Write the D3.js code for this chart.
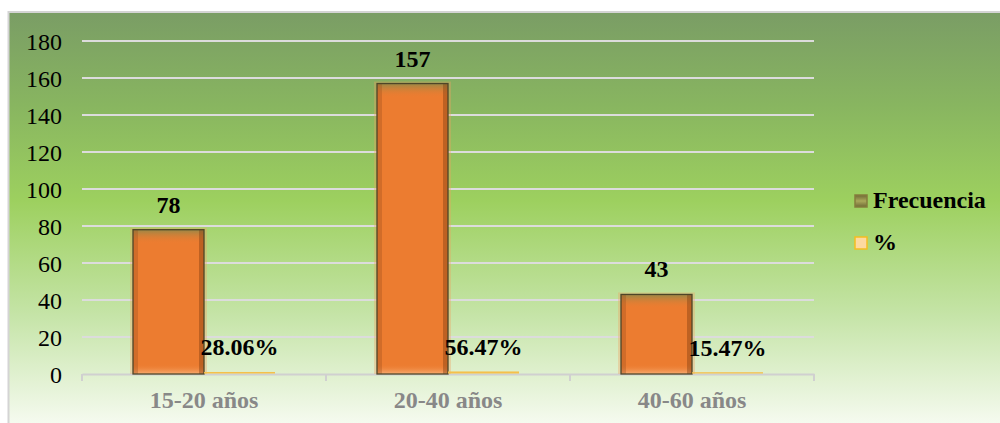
<!DOCTYPE html>
<html><head><meta charset="utf-8">
<script src="https://cdn.jsdelivr.net/npm/d3@7"></script>
<style>body{margin:0;background:#fff;overflow:hidden}svg{display:block}
svg text{font-family:"Liberation Serif","Tinos","Times New Roman",serif !important;}</style>
</head><body>
<script>
const categories = ["15-20 años", "20-40 años", "40-60 años"];
const frecuencia = [78, 157, 43];
const porcentaje = [0.2806, 0.5647, 0.1547];
const porcentajeLabels = ["28.06%", "56.47%", "15.47%"];
const seriesNames = ["Frecuencia", "%"];
const yTicks = [0, 20, 40, 60, 80, 100, 120, 140, 160, 180];

const W = 1000, H = 423;
const svg = d3.select("body").append("svg").attr("width", W).attr("height", H);
const defs = svg.append("defs");

const bg = defs.append("linearGradient").attr("id", "bg").attr("x1", 0).attr("y1", 0).attr("x2", 0).attr("y2", 1);
[[0, "#7a9d65"], [0.22, "#88b560"], [0.45, "#9dd05f"], [0.72, "#c5e4a7"], [1, "#f9fcf5"]]
  .forEach(([o, c]) => bg.append("stop").attr("offset", o).attr("stop-color", c));

const topBevel = defs.append("linearGradient").attr("id", "topBevel").attr("x1", 0).attr("y1", 0).attr("x2", 0).attr("y2", 1);
topBevel.append("stop").attr("offset", 0).attr("stop-color", "#8a8a4a").attr("stop-opacity", 0.85);
topBevel.append("stop").attr("offset", 1).attr("stop-color", "#ed7d31").attr("stop-opacity", 0);

const botBevel = defs.append("linearGradient").attr("id", "botBevel").attr("x1", 0).attr("y1", 1).attr("x2", 0).attr("y2", 0);
botBevel.append("stop").attr("offset", 0).attr("stop-color", "#f8b27a").attr("stop-opacity", 0.9);
botBevel.append("stop").attr("offset", 1).attr("stop-color", "#ed7d31").attr("stop-opacity", 0);

const legGrad = defs.append("linearGradient").attr("id", "legGrad").attr("x1", 0).attr("y1", 0).attr("x2", 0).attr("y2", 1);
legGrad.append("stop").attr("offset", 0).attr("stop-color", "#6f6a35");
legGrad.append("stop").attr("offset", 0.5).attr("stop-color", "#a9a85a");
legGrad.append("stop").attr("offset", 1).attr("stop-color", "#6f6a35");

svg.append("rect").attr("x", 8.5).attr("y", 12).attr("width", 1000).attr("height", 420)
  .attr("fill", "url(#bg)").attr("stroke", "#d4d4d4").attr("stroke-width", 2);

const pLeft = 82, pRight = 814, pTop = 41, pBottom = 374;
const x = d3.scaleBand().domain(categories).range([pLeft, pRight]);
const y = d3.scaleLinear().domain([0, 180]).range([pBottom, pTop]);
const x1 = d3.scaleBand().domain(seriesNames).range([51, x.bandwidth() - 51]);

// gridlines
svg.append("g").selectAll("line").data(yTicks.filter(d => d > 0)).join("line")
  .attr("x1", pLeft).attr("x2", pRight).attr("y1", d => y(d)).attr("y2", d => y(d))
  .attr("stroke", "#dcdcdc").attr("stroke-width", 2);

// y axis labels
const yAxis = svg.append("g").attr("transform", `translate(${pLeft - 20},0)`)
  .call(d3.axisLeft(y).tickValues(yTicks).tickSize(0).tickPadding(0));
yAxis.select(".domain").remove();
yAxis.selectAll("text").attr("font-size", 24).attr("fill", "#000").attr("dy", "0.34em");

// x axis
const xAxis = svg.append("g").attr("transform", `translate(0,${pBottom})`)
  .call(d3.axisBottom(x).tickSize(0).tickPadding(17));
xAxis.select(".domain").attr("stroke", "#d0d0d0").attr("stroke-width", 2);
xAxis.selectAll("text").attr("font-size", 24).attr("font-weight", "bold").attr("fill", "#888");
svg.append("g").selectAll("line").data([pLeft, ...categories.map(c => x(c) + x.bandwidth())]).join("line")
  .attr("x1", d => d).attr("x2", d => d).attr("y1", pBottom).attr("y2", pBottom + 7)
  .attr("stroke", "#d0d0d0").attr("stroke-width", 2);

// Frecuencia bars
const bw = x1.bandwidth();
const gF = svg.append("g");
categories.forEach((c, i) => {
  const bx = x(c) + x1("Frecuencia");
  const by = y(frecuencia[i]);
  const bh = pBottom - by;
  gF.append("rect").attr("x", bx - 3).attr("y", by - 2).attr("width", bw + 6).attr("height", bh + 2)
    .attr("fill", "#f2a060").attr("opacity", 0.35);
  gF.append("rect").attr("x", bx).attr("y", by).attr("width", bw).attr("height", bh).attr("fill", "#ec7c30");
  gF.append("rect").attr("x", bx).attr("y", by).attr("width", bw).attr("height", Math.min(14, bh / 2)).attr("fill", "url(#topBevel)");
  gF.append("rect").attr("x", bx).attr("y", pBottom - 10).attr("width", bw).attr("height", 10).attr("fill", "url(#botBevel)");
  gF.append("rect").attr("x", bx).attr("y", by).attr("width", 5).attr("height", bh).attr("fill", "#a0501c").attr("opacity", 0.35);
  gF.append("rect").attr("x", bx + bw - 5).attr("y", by).attr("width", 5).attr("height", bh).attr("fill", "#7a3a10").attr("opacity", 0.4);
  gF.append("rect").attr("x", bx).attr("y", by).attr("width", bw).attr("height", bh)
    .attr("fill", "none").attr("stroke", "#4d4528").attr("stroke-width", 1.3);
  gF.append("text").attr("x", bx + bw / 2).attr("y", by - 17).attr("text-anchor", "middle")
    .attr("font-size", 24).attr("font-weight", "bold")
    .text(frecuencia[i]);
});

// % bars
const gP = svg.append("g");
categories.forEach((c, i) => {
  const bx = x(c) + x1("%");
  const by = y(porcentaje[i]);
  gP.append("rect").attr("x", bx).attr("y", by - 1.5).attr("width", bw).attr("height", Math.max(1.5, pBottom - by + 1.5) - 0.5)
    .attr("fill", "#f5c04a");
  gP.append("text").attr("x", bx + bw / 2).attr("y", by - 18).attr("text-anchor", "middle")
    .attr("font-size", 24).attr("font-weight", "bold")
    .text(porcentajeLabels[i]);
});

// legend
const leg = svg.append("g");
const legBase = [208, 250];
seriesNames.forEach((s, i) => {
  if (i === 0) {
    leg.append("rect").attr("x", 855).attr("y", legBase[i] - 13).attr("width", 12).attr("height", 12)
      .attr("fill", "url(#legGrad)").attr("stroke", "#857d3c").attr("stroke-width", 1.5);
  } else {
    leg.append("rect").attr("x", 855).attr("y", legBase[i] - 13).attr("width", 12).attr("height", 12)
      .attr("fill", "#fdd9a0").attr("stroke", "#f5bd20").attr("stroke-width", 1.5);
  }
  leg.append("text").attr("x", 873).attr("y", legBase[i])
    .attr("font-size", 24).attr("font-weight", "bold")
    .text(s);
});
</script>
</body></html>
